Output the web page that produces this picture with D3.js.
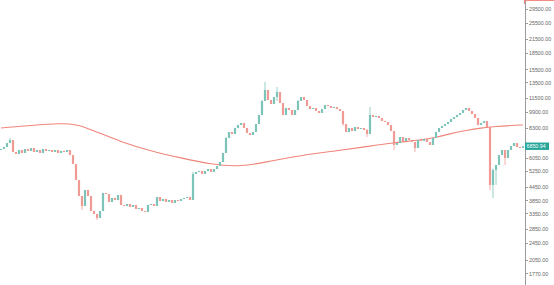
<!DOCTYPE html>
<html>
<head>
<meta charset="utf-8">
<script src="https://cdn.jsdelivr.net/npm/d3@7"></script>
<style>
  body { margin: 0; background: #fff; }
  svg { display: block; }
  .axis text { font-family: Arial, "Liberation Sans", sans-serif; font-size: 5.3px; fill: #666; }
  .axis path, .axis line { stroke: #9a9a9a; shape-rendering: crispEdges; }
</style>
</head>
<body>
<div id="plot"></div>
<script>
const CANVAS_WIDTH  = 554;
const CANVAS_HEIGHT = 285;
const AXIS_X        = 524;

// daily closes, left to right
const closes = [
  6653, 6796, 7091, 7321, 6443, 6308, 6582, 6375, 6653, 6512,
  6724, 6443, 6582, 6375, 6653, 6512, 6582, 6443, 6582, 6375,
  6512, 6443, 6582, 6241, 5672, 4784, 4035, 3627, 4301, 4035,
  3439, 3331, 3192, 3439, 4166, 4122, 3785, 3950, 3866, 4078,
  3666, 3627, 3705, 3589, 3666, 3513, 3551, 3439, 3403, 3666,
  3705, 3627, 3992, 3825, 3907, 3785, 3866, 3745, 3866, 3825,
  3907, 3950, 3992, 3866, 5099, 5209, 5265, 5099, 5265, 5377,
  5209, 5377, 5552, 5793, 6375, 7479, 7972, 7804, 8318, 8588,
  8772, 8318, 7887, 7721, 7972, 8679, 9552, 11085, 12462, 11204,
  10737, 11567, 12200, 10852, 9552, 10290, 10073, 9552, 10073, 11085,
  11567, 11204, 10512, 10182, 10290, 9966, 9757, 10182, 10624, 10512,
  10290, 10400, 10182, 9966, 8679, 7972, 8318, 8057, 8407, 8230,
  8318, 8143, 7804, 9552, 9351, 9451, 9252, 8960, 8865, 8588,
  8057, 6942, 7091, 7558, 7244, 7479, 7321, 7167, 6724, 7321,
  7244, 7399, 7167, 6942, 7479, 7972, 8318, 8497, 8679, 8865,
  9154, 9351, 9552, 9757, 10073, 10290, 9966, 9653, 9252, 8588,
  8772, 8960, 8407, 4536, 5321, 5611, 6241, 6582, 6045, 6582,
  6869, 7091, 6796, 6724, 6850.94
];
const firstOpen = 6582;

// visible wicks: [candle index, high, low]
const wicks = [
  [3, 7479, 7244], [27, 3666, 3476], [32, 3296, 3126], [64, 5209, 3866],
  [75, 7558, 6375], [87, 11204, 9552], [88, 13569, 11085], [92, 12866, 11085],
  [99, 11204, 10073], [114, 9966, 8497], [122, 8230, 7558], [123, 10400, 7804],
  [131, 8057, 6582], [138, 7167, 6443], [163, 8407, 4301], [164, 5400, 3950],
  [165, 5611, 4536], [168, 6582, 5611]
];

// moving average, sampled at candle indexes
const maIndex  = [0, 10, 20, 25, 30, 40, 50, 60, 70, 80, 90, 100, 110, 120, 130, 140, 145, 150, 155, 160, 165, 170, 174];
const maValues = [8318, 8543, 8750, 8640, 8190, 7167, 6512, 6045, 5641, 5493, 5855, 6208, 6477, 6760, 7091, 7321, 7518, 7845, 8100, 8318, 8452, 8543, 8588];

const tickValues = [29500, 25500, 21500, 18500, 15500, 13500, 11500, 9900, 8300, 6050, 5250, 4450, 3850, 3350, 2850, 2450, 2050, 1770];
const lastPrice = 6850.94;

const UP_COLOR   = "#7cc4b8";
const DOWN_COLOR = "#f09a96";
const MA_COLOR   = "#f0857a";

var candles = closes.map(function(c, i) {
    var o = i === 0 ? firstOpen : closes[i - 1];
    return { i: i, open: o, close: c, high: Math.max(o, c), low: Math.min(o, c) };
});
wicks.forEach(function(w) {
    var d = candles[w[0]];
    d.high = Math.max(d.high, w[1]);
    d.low = Math.min(d.low, w[2]);
});

var svg = d3.select("#plot")
    .append("svg")
    .attr("width", CANVAS_WIDTH)
    .attr("height", CANVAS_HEIGHT);

svg.append("rect")
    .attr("width", CANVAS_WIDTH)
    .attr("height", CANVAS_HEIGHT)
    .attr("fill", "#fff");

var xScale = d3.scaleLinear()
    .domain([0, closes.length - 1])
    .range([1, AXIS_X - 1]);

var yScale = d3.scaleLog()
    .domain([1565, 32465])
    .range([CANVAS_HEIGHT, 0]);

// moving average
var maLine = d3.line()
    .x(function(d) { return xScale(d[0]); })
    .y(function(d) { return yScale(d[1]); })
    .curve(d3.curveBasis);

svg.append("path")
    .datum(maIndex.map(function(v, k) { return [v, maValues[k]]; }))
    .attr("d", maLine)
    .attr("fill", "none")
    .attr("stroke", MA_COLOR)
    .attr("stroke-width", 1.1);

// candles
var g = svg.append("g");
var colorOf = function(d) { return d.close >= d.open ? UP_COLOR : DOWN_COLOR; };

g.selectAll("line.wick")
    .data(candles)
    .enter()
    .append("line")
    .attr("class", "wick")
    .attr("x1", function(d) { return xScale(d.i); })
    .attr("x2", function(d) { return xScale(d.i); })
    .attr("y1", function(d) { return yScale(d.high); })
    .attr("y2", function(d) { return yScale(d.low); })
    .attr("stroke", colorOf)
    .attr("stroke-width", 0.8);

g.selectAll("rect.body")
    .data(candles)
    .enter()
    .append("rect")
    .attr("class", "body")
    .attr("x", function(d) { return xScale(d.i) - 1.1; })
    .attr("width", 2.2)
    .attr("y", function(d) { return yScale(Math.max(d.open, d.close)); })
    .attr("height", function(d) {
        return Math.max(0.8, Math.abs(yScale(d.open) - yScale(d.close)));
    })
    .attr("fill", colorOf);

// price axis
var yAxis = d3.axisRight(yScale)
    .tickValues(tickValues)
    .tickSize(3)
    .tickSizeOuter(0)
    .tickPadding(1.5)
    .tickFormat(d3.format(".2f"));

svg.append("g")
    .attr("class", "axis")
    .attr("transform", "translate(" + (AXIS_X + 0.5) + ",0)")
    .call(yAxis);

// red marker at top of scale
svg.append("path")
    .attr("d", "M" + (AXIS_X + 0.5) + ",0V4M" + AXIS_X + ",0.5H" + CANVAS_WIDTH)
    .attr("stroke", "#f28b82")
    .attr("fill", "none");

// last price label
var yLast = yScale(lastPrice);
svg.append("rect")
    .attr("x", AXIS_X + 1)
    .attr("y", yLast - 3.7)
    .attr("width", 24)
    .attr("height", 7.4)
    .attr("fill", "#26a69a");

svg.append("text")
    .attr("x", AXIS_X + 2.5)
    .attr("y", yLast)
    .attr("dy", "0.35em")
    .attr("font-family", "Arial, 'Liberation Sans', sans-serif")
    .attr("font-size", 5.3)
    .attr("fill", "#fff")
    .text(lastPrice.toFixed(2));
</script>
</body>
</html>
